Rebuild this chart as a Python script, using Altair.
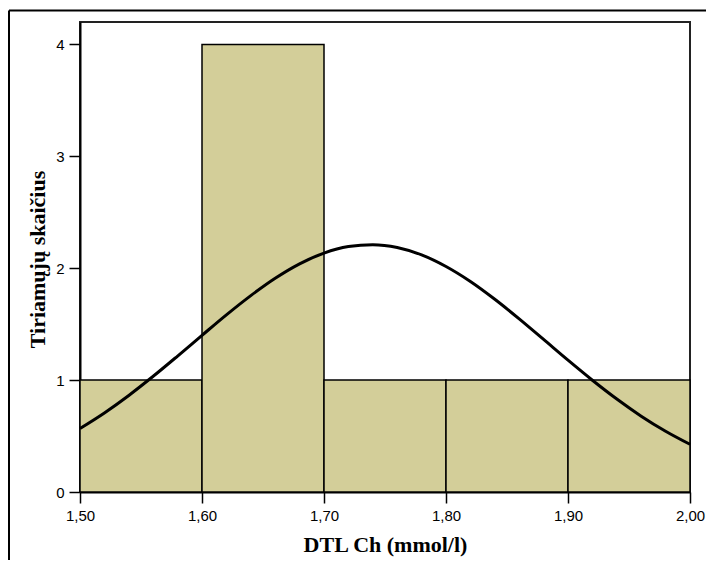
import altair as alt
import pandas as pd

# Histogram bins (mmol/l) and counts
bin_start = [1.50, 1.60, 1.70, 1.80, 1.90]
bin_end = [1.60, 1.70, 1.80, 1.90, 2.00]
counts = [1, 4, 1, 1, 1]

# Normal curve
curve_x = [1.50, 1.52, 1.54, 1.56, 1.58, 1.60, 1.62, 1.64, 1.66, 1.68, 1.70, 1.72, 1.74,
           1.76, 1.78, 1.80, 1.82, 1.84, 1.86, 1.88, 1.90, 1.92, 1.94, 1.96, 1.98, 2.00]
curve_y = [0.568, 0.707, 0.863, 1.034, 1.215, 1.400, 1.583, 1.755, 1.910, 2.039, 2.135, 2.193, 2.210,
           2.185, 2.119, 2.015, 1.881, 1.722, 1.547, 1.363, 1.178, 0.999, 0.831, 0.678, 0.543, 0.426]

x_ticks = [1.50, 1.60, 1.70, 1.80, 1.90, 2.00]
y_ticks = [0, 1, 2, 3, 4]

bars_df = pd.DataFrame({"start": bin_start, "end": bin_end, "count": counts})
curve_df = pd.DataFrame({"x": curve_x, "y": curve_y})
one = pd.DataFrame({"a": [0]})

xscale = alt.Scale(domain=[1.5, 2.0], nice=False, zero=False)
yscale = alt.Scale(domain=[0, 4.2], nice=False)

label_expr = "replace(format(datum.value, '.2f'), '.', ',')"

# outer page frame (top and left edges; the others are cut off in the picture)
frame_top = alt.Chart(one).mark_rule(color="black", strokeWidth=2, clip=False).encode(
    x=alt.value(-71), x2=alt.value(626), y=alt.value(-11.5)
)
frame_left = alt.Chart(one).mark_rule(color="black", strokeWidth=2, clip=False).encode(
    x=alt.value(-71), y=alt.value(-11.5), y2=alt.value(538)
)

bars = alt.Chart(bars_df).mark_rect(
    fill="#D3CE99", stroke="black", strokeWidth=1.5
).encode(
    x=alt.X("start:Q", scale=xscale,
            axis=alt.Axis(values=x_ticks, labelExpr=label_expr, title="DTL Ch (mmol/l)",
                          grid=False, tickSize=11, tickColor="black", tickWidth=1.5,
                          domainColor="black", domainWidth=2,
                          labelFont="Liberation Sans", labelFontSize=15, labelColor="black",
                          labelPadding=5, labelFlush=False,
                          titleFont="Liberation Serif", titleFontSize=22, titleFontWeight="bold",
                          titleColor="black", titleY=59, titleBaseline="alphabetic")),
    x2="end:Q",
    y=alt.Y("count:Q", scale=yscale,
            axis=alt.Axis(values=y_ticks, format="d", title="Tiriamųjų skaičius", grid=False,
                          tickSize=11, tickColor="black", tickWidth=1.5,
                          domainColor="black", domainWidth=2,
                          labelFont="Liberation Sans", labelFontSize=15, labelColor="black",
                          labelPadding=5,
                          titleFont="Liberation Serif", titleFontSize=22, titleFontWeight="bold",
                          titleColor="black", titleX=-43, titleY=237, titleBaseline="middle",
                          titleAngle=270)),
    y2=alt.datum(0),
)

curve = alt.Chart(curve_df).mark_line(
    color="black", strokeWidth=3, interpolate="monotone"
).encode(
    x=alt.X("x:Q", scale=xscale),
    y=alt.Y("y:Q", scale=yscale),
)

chart = alt.layer(frame_top, frame_left, bars, curve).properties(
    width=610, height=470,
    padding={"left": 72, "top": 14, "right": 16, "bottom": 68},
    autosize=alt.AutoSizeParams(type="none"),
    background="white",
).configure_view(stroke="#222222", strokeWidth=2)

chart.save("out.html", embed_options={"renderer": "svg", "actions": False})
